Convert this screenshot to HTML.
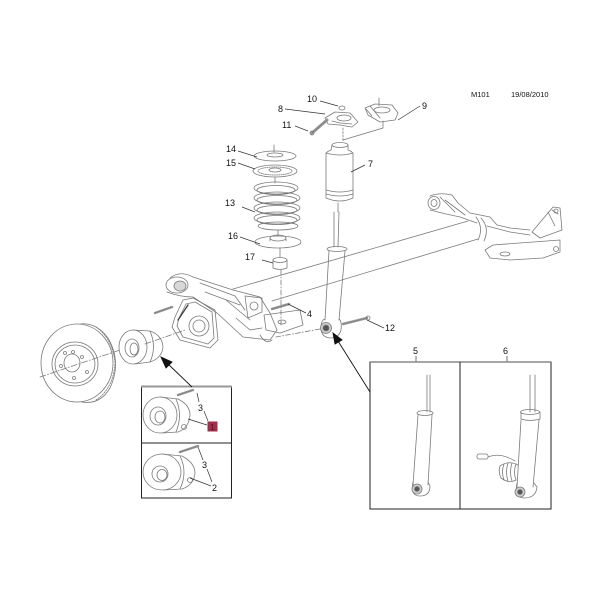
<!DOCTYPE html>
<html><head><meta charset="utf-8"><style>
html,body{margin:0;padding:0;background:#fff;}
svg{display:block;}
text{font-family:"Liberation Sans",Arial,sans-serif;fill:#111;}
</style></head><body>
<svg width="600" height="600" viewBox="0 0 600 600" xmlns="http://www.w3.org/2000/svg">
<rect width="600" height="600" fill="#fff"/>
<!-- header -->
<text x="471" y="97" font-size="7.5">M101</text>
<text x="511" y="97" font-size="7.5">19/08/2010</text>

<g fill="none" stroke="#7a7a7a" stroke-width="0.8" stroke-linejoin="round" stroke-linecap="round">
<!-- axle tube -->
<line x1="233" y1="289" x2="468" y2="221"/>
<line x1="272" y1="301" x2="478" y2="239"/>

<!-- right trailing arm -->
<ellipse cx="434" cy="203" rx="6" ry="6.5"/>
<ellipse cx="434" cy="203" rx="3" ry="3.5"/>
<path d="M430 196 Q440 192 452 195 L458 203 L470 213 L490 217 L497 225 L510 228 L530 230"/>
<path d="M430 210 Q445 214 460 217 L477 223"/>
<path d="M440 197 Q448 205 455 212 M445 200 L465 215"/>
<path d="M476 217 Q484 228 478 240 M481 218 Q490 228 484 241"/>
<path d="M487 226 L510 232 L530 235"/>
<path d="M532 232 L553 207 L560 208 L562 230 L540 238 Z"/>
<path d="M548 212 L555 226 M552 210 L558 214"/>
<circle cx="556" cy="211" r="2"/>
<path d="M485 250 L493 245 L560 240 L560 252 L543 258 L510 260 L490 258 Z"/>
<ellipse cx="505" cy="254" rx="5" ry="2"/>
<circle cx="556" cy="249" r="2.5"/>

<!-- left trailing arm -->
<ellipse cx="177" cy="285" rx="11" ry="8"/>
<ellipse cx="180" cy="286" rx="6" ry="5" fill="#d8d8d8"/>
<path d="M170 278 Q180 270 193 277 L233 290 L260 297 L270 313 L277 330 L270 340"/>
<path d="M167 292 Q180 297 193 297 L217 313 L243 337 L270 340"/>
<path d="M200 283 L235 296 L245 310 M205 292 L240 305 M226 300 L250 320"/>
<path d="M245 296 L262 298 L262 312 L248 318 Z"/>
<circle cx="254" cy="306" r="4"/>
<path d="M236 318 L250 330 L262 328"/>
<!-- bracket plate -->
<path d="M183 300 L193 298 L215 310 L218 340 L210 348 L180 340 L172 327 L175 317 Z"/>
<path d="M186 304 L195 302 L212 312 L214 338 L208 344 L183 337 L177 326 L179 318 Z"/>
<circle cx="199" cy="326" r="10"/>
<circle cx="199" cy="326" r="6"/>
<line x1="188" y1="305" x2="178" y2="320" stroke-width="1.4" stroke="#444"/>
<!-- lower spring seat bracket -->
<path d="M264 315 L300 310 L303 325 L280 333 L266 330 Z"/>
<ellipse cx="282" cy="322" rx="4" ry="2"/>
<path d="M260 335 Q266 345 272 340"/>

<!-- disc -->
<ellipse cx="77" cy="363" rx="36" ry="39"/>
<path d="M80 324 Q96 322 108 338 Q122 362 110 388 Q100 405 82 402"/>
<path d="M96 327 Q112 338 115 362 Q114 388 96 400" stroke-dasharray="1.5 1.2"/>
<ellipse cx="75" cy="364" rx="23" ry="22"/>
<ellipse cx="75" cy="364" rx="20" ry="19"/>
<ellipse cx="72" cy="363" rx="8" ry="9"/>
<g fill="none">
<circle cx="65" cy="353" r="1.5"/><circle cx="73" cy="352" r="1.5"/><circle cx="82" cy="357" r="1.5"/>
<circle cx="61" cy="366" r="1.5"/><circle cx="87" cy="372" r="1.5"/><circle cx="74" cy="378" r="1.5"/>
</g>
<line x1="40" y1="377" x2="120" y2="350" stroke-dasharray="6 2 1 2"/>

<!-- main hub -->
<ellipse cx="133" cy="347" rx="14" ry="17"/>
<path d="M133 330 L150 331 Q162 335 163 347 Q162 358 150 362 L135 364"/>
<path d="M150 331 Q157 347 150 362"/>
<ellipse cx="132" cy="348" rx="7" ry="9"/>
<ellipse cx="134" cy="349" rx="4" ry="6"/>
<line x1="145" y1="344" x2="185" y2="330" stroke-dasharray="6 2 1 2"/>
<!-- bolt near hub -->
<path d="M155 313 L172 307" stroke-width="2.5" stroke="#999"/>
<path d="M155 313 L172 307" stroke-dasharray="1 1"/>

<!-- spring seats -->
<line x1="274" y1="145" x2="274" y2="152"/>
<ellipse cx="275" cy="156" rx="21" ry="5"/>
<ellipse cx="275" cy="155" rx="8" ry="2"/>
<ellipse cx="275" cy="171" rx="22" ry="6"/>
<ellipse cx="275" cy="171" rx="17" ry="4" stroke-dasharray="1.2 1"/>
<ellipse cx="275" cy="170" rx="6" ry="2"/>
<line x1="275" y1="177" x2="275" y2="183"/>
<!-- spring coils -->
<g stroke="#777">
<ellipse cx="276" cy="188" rx="22" ry="6"/>
<ellipse cx="276" cy="190" rx="19" ry="4.5"/>
<ellipse cx="277" cy="198" rx="23" ry="6"/>
<ellipse cx="277" cy="200" rx="20" ry="4.5"/>
<ellipse cx="277" cy="208" rx="23" ry="6"/>
<ellipse cx="277" cy="210" rx="20" ry="4.5"/>
<ellipse cx="277" cy="218" rx="23" ry="6"/>
<ellipse cx="277" cy="220" rx="20" ry="4.5"/>
<ellipse cx="278" cy="226" rx="20" ry="4"/>
</g>
<line x1="278" y1="230" x2="278" y2="236"/>
<ellipse cx="278" cy="242" rx="23" ry="6"/>
<ellipse cx="278" cy="238" rx="8" ry="3"/>
<path d="M270 238 L270 241 M286 238 L286 241"/>
<line x1="280" y1="248" x2="280" y2="257"/>
<!-- bump stop 17 -->
<path d="M273 260 L273 268 Q280 271 287 268 L287 260"/>
<ellipse cx="280" cy="260" rx="7" ry="2.5"/>
<line x1="281" y1="270" x2="281" y2="325" stroke-dasharray="5 2 1 2"/>

<!-- top mounts -->
<ellipse cx="342" cy="108" rx="3" ry="2"/>
<path d="M325 118 L335 112 L350 113 L358 122 L352 127 L340 125 L328 124 Z"/>
<ellipse cx="344" cy="118" rx="7" ry="3"/>
<path d="M332 121 L340 123 L352 124"/>
<path d="M312 133 L327 120" stroke-width="3" stroke="#999"/>
<path d="M312 133 L327 120" stroke-dasharray="1 1"/>
<circle cx="312" cy="133" r="2"/>
<line x1="379" y1="98" x2="379" y2="106"/>
<path d="M365 108 L375 104 L392 105 L398 113 L395 120 L380 122 L368 115 Z"/>
<ellipse cx="382" cy="110" rx="8" ry="3"/>
<path d="M366 109 L372 116 M370 106 L380 118"/>
<path d="M383 121 L383 128 L343 140"/>
<line x1="343" y1="128" x2="343" y2="141" stroke-dasharray="2 1.5"/>

<!-- dust boot 7 -->
<ellipse cx="340" cy="145" rx="8" ry="2.5"/>
<path d="M332 145 L331 150 Q328 151 326 153 L326 198 Q340 204 353 198 L353 153 Q351 151 348 150 L348 145"/>
<path d="M326 153 Q340 157 353 153"/>
<path d="M326 190 Q340 194 353 190 M326 194 Q340 198 353 194"/>
<line x1="338" y1="203" x2="338" y2="212"/>

<!-- shock absorber main -->
<path d="M334 212 L334 247 M339 212 L338 247"/>
<ellipse cx="337" cy="249" rx="10" ry="2.5"/>
<path d="M329 251 L325 320 M345 251 L339 320"/>
<path d="M325 319 Q321 320 321 328 Q321 337 330 338 Q339 338 341 330 Q342 321 339 319"/>
<circle cx="326" cy="328" r="5.5" fill="#cfcfcf"/>
<circle cx="326" cy="328" r="3" fill="#555"/>
<line x1="320" y1="329" x2="276" y2="337" stroke-dasharray="5 2 1 2"/>
<!-- bolt 4 -->
<path d="M272 309 L289 304" stroke-width="2.5" stroke="#999"/>
<path d="M272 309 L289 304" stroke-dasharray="1 1"/>
<!-- bolt 12 -->
<path d="M343 324 L367 318" stroke-width="2.5" stroke="#999"/>
<path d="M343 324 L367 318" stroke-dasharray="1 1"/>
<circle cx="368" cy="318" r="2"/>

<!-- left box hubs -->
<ellipse cx="160" cy="415" rx="17" ry="18"/>
<path d="M160 397 L178 399 Q190 405 190 415 Q189 428 178 432 L162 433"/>
<path d="M176 399 Q183 415 176 432"/>
<ellipse cx="158" cy="416" rx="8" ry="9"/>
<ellipse cx="160" cy="417" rx="5" ry="6"/>
<circle cx="184" cy="427" r="2.5"/>
<path d="M178 395 L193 390" stroke-width="2.5" stroke="#999"/>
<path d="M178 395 L193 390" stroke-dasharray="1 1"/>
<ellipse cx="162" cy="472" rx="19" ry="18"/>
<path d="M162 454 L182 456 Q195 463 195 473 Q194 485 182 489 L164 490"/>
<path d="M180 456 Q188 472 180 489"/>
<ellipse cx="160" cy="474" rx="8" ry="8"/>
<ellipse cx="162" cy="475" rx="5" ry="5.5"/>
<circle cx="190" cy="480" r="2.5"/>
<path d="M180 452 L198 446" stroke-width="2.5" stroke="#999"/>
<path d="M180 452 L198 446" stroke-dasharray="1 1"/>

<!-- right box shocks -->
<path d="M427 375 L427 412 M430 375 L430 412"/>
<ellipse cx="425" cy="413" rx="8" ry="2.5"/>
<path d="M418 415 L413 485 M432 415 L428 485"/>
<path d="M413 482 Q410 496 420 496 Q430 496 430 486 L428 482"/>
<circle cx="417" cy="489" r="5" fill="#d0d0d0"/>
<circle cx="417" cy="489" r="2.5" fill="#555"/>

<path d="M530 375 L530 412 M535 375 L535 412"/>
<ellipse cx="530" cy="412" rx="9.5" ry="2.5"/>
<path d="M521 412 L521 419 Q530 422 540 419 L540 412"/>
<path d="M521 420 L517 487 M539 420 L533 487"/>
<path d="M517 483 Q514 498 524 498 Q536 498 537 487 L534 483"/>
<circle cx="520" cy="492" r="5" fill="#d0d0d0"/>
<circle cx="520" cy="492" r="2.5" fill="#555"/>
<path d="M500 466 Q498 472 501 478 M504 464 Q501 472 504 480 M508 463 Q505 472 508 481 M512 463 Q509 472 512 481 M516 464 Q513 472 516 480"/>
<path d="M500 466 Q509 460 518 465 M501 478 Q509 484 516 480"/>
<path d="M488 457 Q500 452 515 461"/>
<rect x="477" y="454" width="11" height="5" rx="2"/>
</g>

<!-- leader lines -->
<g stroke="#333" stroke-width="0.7" fill="none">
<line x1="238" y1="151" x2="257" y2="157"/>
<line x1="238" y1="163" x2="255" y2="169"/>
<line x1="242" y1="207" x2="255" y2="212"/>
<line x1="240" y1="237" x2="260" y2="244"/>
<line x1="262" y1="260" x2="273" y2="263"/>
<line x1="365" y1="165" x2="351" y2="172"/>
<line x1="320" y1="101" x2="338" y2="106"/>
<line x1="285" y1="109" x2="325" y2="114"/>
<line x1="295" y1="126" x2="308" y2="131"/>
<line x1="420" y1="106" x2="398" y2="120"/>
<line x1="306" y1="313" x2="288" y2="304"/>
<line x1="384" y1="328" x2="367" y2="320"/>
<line x1="416" y1="356" x2="416" y2="362"/>
<line x1="507" y1="356" x2="507" y2="362"/>
<line x1="197" y1="393" x2="199" y2="402"/>
<line x1="204" y1="411" x2="208" y2="421"/>
<line x1="188" y1="419" x2="207" y2="425"/>
<line x1="198" y1="447" x2="203" y2="460"/>
<line x1="207" y1="469" x2="212" y2="482"/>
<line x1="190" y1="478" x2="211" y2="486"/>
</g>

<!-- boxes -->
<g fill="none">
<rect x="141.5" y="386.5" width="90" height="111.5" stroke="#222" stroke-width="1"/>
<line x1="141" y1="386.5" x2="232" y2="386.5" stroke="#999" stroke-width="2"/>
<line x1="141.5" y1="443" x2="231.5" y2="443" stroke="#222" stroke-width="1"/>
<rect x="370" y="362" width="181" height="147" stroke="#222" stroke-width="1"/>
<line x1="370" y1="362" x2="551" y2="362" stroke="#888" stroke-width="1.6"/>
<line x1="460" y1="362" x2="460" y2="509" stroke="#222" stroke-width="1"/>
</g>

<!-- arrows -->
<g stroke="#111" stroke-width="0.9" fill="#111">
<line x1="192" y1="387" x2="168" y2="364"/>
<path d="M161 357 L172 362 L166 368 Z"/>
<line x1="370" y1="392" x2="338" y2="341"/>
<path d="M333 333 L342 340 L335 344 Z"/>
</g>

<!-- red label -->
<rect x="207.5" y="421.5" width="10" height="10" fill="#9e2f4a"/>
<text x="210" y="430" font-size="8.5" style="fill:#5a1020">1</text>

<!-- labels -->
<g font-size="9">
<text x="307" y="102">10</text>
<text x="278" y="112">8</text>
<text x="422" y="109">9</text>
<text x="282" y="128">11</text>
<text x="226" y="152">14</text>
<text x="226" y="166">15</text>
<text x="368" y="167">7</text>
<text x="225" y="206">13</text>
<text x="228" y="239">16</text>
<text x="245" y="260">17</text>
<text x="307" y="317">4</text>
<text x="385" y="331">12</text>
<text x="413" y="354">5</text>
<text x="503" y="354">6</text>
<text x="198" y="411">3</text>
<text x="202" y="468">3</text>
<text x="212" y="491">2</text>
</g>
</svg>
</body></html>
